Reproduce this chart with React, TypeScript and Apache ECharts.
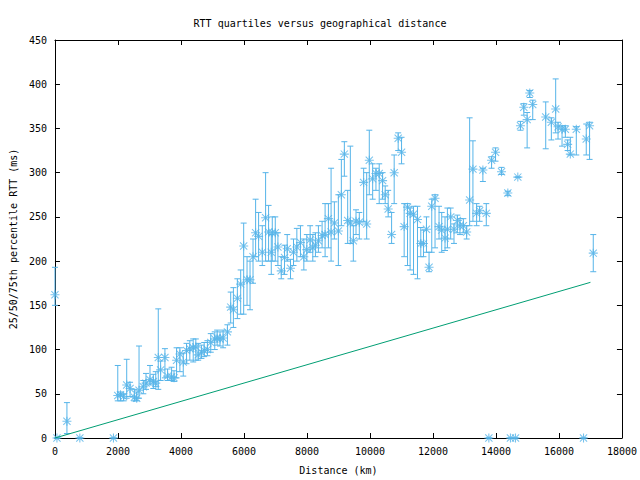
import React, { useEffect, useRef } from "react";
import * as echarts from "echarts";

const distance = [0, 63, 380, 790, 1857, 1994, 2080, 2180, 2278, 2384, 2521, 2595, 2669, 2805, 2890, 3017, 3122, 3200, 3280, 3354, 3491, 3576, 3703, 3780, 3861, 3966, 4073, 4177, 4282, 4389, 4472, 4547, 4650, 4737, 4840, 4946, 5073, 5149, 5240, 5338, 5475, 5579, 5665, 5791, 5896, 5991, 6098, 6193, 6288, 6370, 6465, 6582, 6687, 6782, 6867, 6899, 6994, 7078, 7184, 7288, 7373, 7478, 7573, 7679, 7794, 7901, 7996, 8101, 8185, 8269, 8364, 8481, 8576, 8681, 8766, 8870, 8997, 9092, 9187, 9293, 9377, 9472, 9557, 9662, 9800, 9896, 9979, 10086, 10190, 10294, 10401, 10484, 10579, 10687, 10769, 10896, 11003, 11086, 11193, 11275, 11383, 11509, 11614, 11699, 11794, 11876, 11962, 12066, 12193, 12278, 12383, 12459, 12563, 12668, 12775, 12858, 12965, 13070, 13165, 13269, 13386, 13481, 13585, 13693, 13775, 13861, 13987, 14177, 14377, 14460, 14620, 14694, 14778, 14884, 14990, 15073, 15168, 15580, 15759, 15896, 15971, 16098, 16203, 16276, 16361, 16551, 16780, 16867, 16972, 17089];
const median = [162, 0, 19, 0, 0, 48, 49, 47, 60, 56, 46, 45, 54, 58, 62, 66, 64, 62, 91, 77, 91, 70, 69, 68, 88, 95, 86, 99, 101, 102, 103, 94, 97, 99, 100, 108, 112, 113, 112, 113, 120, 148, 145, 158, 174, 217, 179, 179, 205, 232, 228, 210, 249, 233, 210, 232, 232, 216, 189, 204, 214, 192, 210, 216, 221, 205, 213, 224, 215, 218, 223, 229, 230, 248, 233, 243, 234, 275, 321, 246, 243, 223, 245, 244, 289, 242, 314, 293, 299, 299, 291, 275, 259, 230, 300, 339, 323, 239, 261, 254, 253, 247, 220, 220, 236, 193, 262, 271, 239, 235, 226, 236, 250, 236, 246, 240, 240, 233, 269, 304, 254, 257, 303, 254, 0, 314, 323, 301, 277, 0, 0, 295, 353, 374, 360, 390, 377, 363, 357, 372, 352, 349, 349, 332, 321, 349, 0, 338, 353, 209];
const q25 = [150, 0, 5, 0, 0, 42, 42, 42, 45, 47, 42, 42, 45, 50, 55, 60, 56, 58, 55, 65, 68, 65, 65, 64, 68, 75, 70, 84, 88, 86, 88, 88, 90, 92, 93, 97, 100, 105, 104, 102, 105, 130, 125, 135, 140, 140, 150, 145, 175, 205, 200, 195, 200, 200, 185, 200, 200, 195, 180, 185, 200, 180, 195, 200, 205, 190, 200, 210, 200, 205, 210, 215, 205, 215, 200, 225, 195, 240, 296, 220, 220, 200, 230, 225, 245, 225, 275, 270, 280, 265, 270, 265, 250, 220, 265, 325, 310, 205, 195, 190, 185, 180, 205, 205, 210, 188, 210, 215, 225, 210, 212, 215, 225, 220, 232, 230, 232, 225, 240, 245, 240, 245, 290, 240, 0, 305, 313, 298, 274, 0, 0, 295, 348, 365, 328, 385, 360, 327, 337, 345, 338, 330, 340, 325, 320, 320, 0, 320, 315, 188];
const q75 = [193, 0, 40, 0, 0, 82, 52, 50, 89, 63, 55, 52, 104, 65, 73, 82, 72, 75, 146, 87, 101, 78, 80, 76, 102, 102, 96, 107, 110, 112, 112, 107, 105, 108, 110, 118, 120, 122, 120, 122, 128, 165, 170, 180, 190, 243, 205, 200, 225, 270, 255, 240, 300, 263, 230, 250, 250, 232, 205, 218, 230, 202, 225, 237, 240, 225, 230, 240, 230, 232, 240, 245, 265, 265, 305, 267, 275, 315, 335, 280, 330, 240, 258, 255, 305, 300, 348, 310, 305, 310, 300, 285, 280, 255, 320, 345, 340, 265, 265, 260, 262, 262, 238, 235, 250, 210, 270, 275, 262, 255, 250, 260, 260, 242, 252, 248, 248, 240, 362, 336, 265, 262, 305, 265, 0, 318, 328, 306, 279, 0, 0, 295, 358, 378, 368, 393, 382, 380, 362, 406, 357, 353, 353, 337, 340, 352, 0, 355, 357, 230];

const boundDistance = [0, 17000];
const boundRtt = [0, 176];

const xTicks = { min: 0, max: 18000, interval: 2000 };
const yTicks = { min: 0, max: 450, interval: 50 };

const BLUE = "#56b4e9";
const GREEN = "#009e73";
const FONT = "DejaVu Sans Mono";

const ASTERISK =
  "path://M0 4.4H10V5.6H0Z M4.4 0H5.6V10H4.4Z M0.6 1.4L1.4 0.6L9.4 8.6L8.6 9.4Z M8.6 0.6L9.4 1.4L1.4 9.4L0.6 8.6Z";

export default function App() {
  const ref = useRef<HTMLDivElement>(null);
  useEffect(() => {
    document.body.style.margin = "0";
    const chart = echarts.init(ref.current!, undefined, { renderer: "svg" });
    const pts = distance.map((d, i) => [d, median[i]]);
    const bars = distance.map((d, i) => [d, median[i], q25[i], q75[i]]);
    const line = boundDistance.map((d, i) => [d, boundRtt[i]]);
    const axisLine = { show: true, onZero: false, lineStyle: { color: "#000", width: 1 } };
    const tick = { show: true, inside: true, length: 5, lineStyle: { color: "#000" } };
    const plain = (v: number) => String(v);
    chart.setOption({
      animation: false,
      backgroundColor: "#fff",
      textStyle: { fontFamily: FONT },
      title: {
        text: "RTT quartiles versus geographical distance",
        left: "center",
        top: 13,
        textStyle: { fontFamily: FONT, fontSize: 10, fontWeight: "normal", color: "#000" },
      },
      grid: { left: 53, right: 18, top: 40, bottom: 42 },
      xAxis: [
        {
          type: "value",
          ...xTicks,
          position: "bottom",
          axisLine,
          axisTick: tick,
          splitLine: { show: false },
          axisLabel: { color: "#000", fontFamily: FONT, fontSize: 10, margin: 8, formatter: plain },
          name: "Distance (km)",
          nameLocation: "middle",
          nameGap: 27,
          nameTextStyle: { color: "#000", fontFamily: FONT, fontSize: 10 },
        },
        {
          type: "value",
          ...xTicks,
          position: "top",
          axisLine,
          axisTick: tick,
          splitLine: { show: false },
          axisLabel: { show: false },
        },
      ],
      yAxis: [
        {
          type: "value",
          ...yTicks,
          position: "left",
          axisLine,
          axisTick: tick,
          splitLine: { show: false },
          axisLabel: { color: "#000", fontFamily: FONT, fontSize: 10, margin: 8, formatter: plain },
          name: "25/50/75th percentile RTT (ms)",
          nameLocation: "middle",
          nameGap: 34,
          nameRotate: 90,
          nameTextStyle: { color: "#000", fontFamily: FONT, fontSize: 10 },
        },
        {
          type: "value",
          ...yTicks,
          position: "right",
          axisLine,
          axisTick: tick,
          splitLine: { show: false },
          axisLabel: { show: false },
        },
      ],
      series: [
        {
          type: "custom",
          xAxisIndex: 0,
          yAxisIndex: 0,
          data: bars,
          encode: { x: 0, y: [2, 3] },
          renderItem: (params: any, api: any) => {
            const x = api.value(0);
            const lo = api.coord([x, api.value(2)]);
            const hi = api.coord([x, api.value(3)]);
            const w = 3;
            const style = { stroke: BLUE, lineWidth: 1 };
            return {
              type: "group",
              children: [
                { type: "line", shape: { x1: lo[0], y1: lo[1], x2: hi[0], y2: hi[1] }, style },
                { type: "line", shape: { x1: lo[0] - w, y1: lo[1], x2: lo[0] + w, y2: lo[1] }, style },
                { type: "line", shape: { x1: hi[0] - w, y1: hi[1], x2: hi[0] + w, y2: hi[1] }, style },
              ],
            };
          },
          z: 2,
        },
        {
          type: "scatter",
          xAxisIndex: 0,
          yAxisIndex: 0,
          data: pts,
          symbol: ASTERISK,
          symbolSize: 9,
          itemStyle: { color: BLUE },
          clip: false,
          z: 3,
        },
        {
          type: "line",
          xAxisIndex: 0,
          yAxisIndex: 0,
          data: line,
          showSymbol: false,
          symbol: "none",
          lineStyle: { color: GREEN, width: 1 },
          z: 4,
        },
      ],
    });
    return () => chart.dispose();
  }, []);
  return <div ref={ref} style={{ width: 640, height: 480 }} />;
}
